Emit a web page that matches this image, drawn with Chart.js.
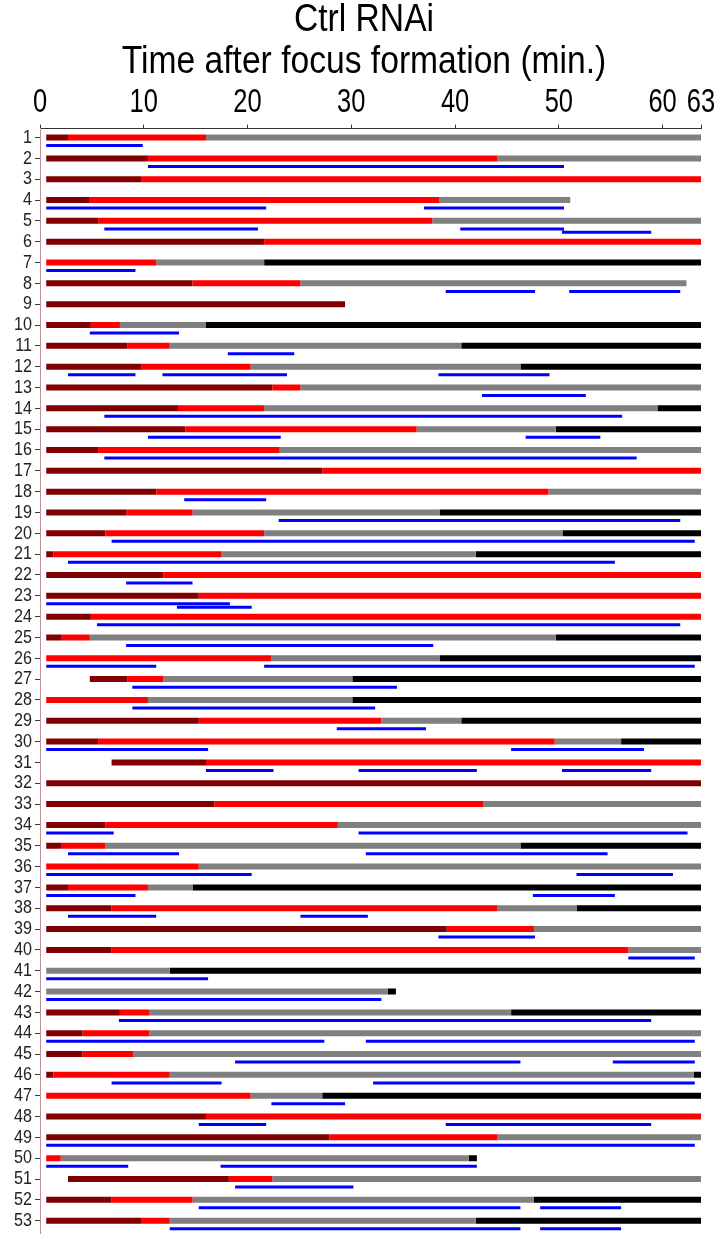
<!DOCTYPE html>
<html>
<head>
<meta charset="utf-8">
<script src="https://cdn.jsdelivr.net/npm/chart.js@4/dist/chart.umd.min.js"></script>
<style>
  html, body { margin: 0; padding: 0; background: #fff; }
  #wrap { width: 728px; height: 1234px; }
</style>
</head>
<body>
<div id="wrap"><canvas id="chart" width="728" height="1234"></canvas></div>
<script>
// one row per focus, numbered from the top
const rows = [1,2,3,4,5,6,7,8,9,10,11,12,13,14,15,16,17,18,19,20,21,22,23,24,25,26,27,
  28,29,30,31,32,33,34,35,36,37,38,39,40,41,42,43,44,45,46,47,48,49,50,51,52,53]

// phase onsets per row (min.), null when the phase is not seen
const barStart = [0.6,0.6,0.6,0.6,0.6,0.6,0.6,0.6,0.6,0.6,0.6,0.6,0.6,0.6,0.6,0.6,0.6,0.6,0.6,0.6,0.6,0.6,0.6,0.6,0.6,0.6,4.8,
  0.6,0.6,0.6,6.9,0.6,0.6,0.6,0.6,0.6,0.6,0.6,0.6,0.6,0.6,0.6,0.6,0.6,0.6,0.6,0.6,0.6,0.6,0.6,2.7,0.6,0.6]
const redOnset = [2.7,10.4,9.8,4.8,5.6,21.6,0.6,14.7,null,4.9,8.4,9.8,22.4,13.3,14.0,5.6,27.2,11.2,8.3,6.3,1.3,11.9,15.3,4.9,2.1,0.6,8.4,
  0.6,15.3,5.6,16.0,null,16.8,6.3,2.1,0.6,2.7,6.9,39.2,6.9,null,null,7.7,4.1,4.1,1.3,0.6,16.0,27.9,0.6,18.2,6.9,9.8]
const grayOnset = [16.0,44.1,null,38.5,37.8,null,11.2,25.1,null,7.7,12.5,20.3,25.1,21.6,36.3,23.1,null,49.0,14.7,21.6,17.5,null,null,null,4.8,22.3,11.9,
  10.4,32.9,49.6,null,null,42.7,28.7,6.3,15.3,10.4,44.1,47.6,56.7,0.6,0.6,10.5,10.5,9.0,12.5,20.3,null,44.1,2.0,22.4,14.7,12.5]
const blackOnset = [null,null,null,null,null,null,21.6,null,null,16.0,40.6,46.3,null,59.5,49.7,null,null,null,38.5,50.4,42.0,null,null,null,49.7,38.5,30.1,
  30.1,40.6,56.0,null,null,null,null,46.3,null,14.7,51.7,null,null,12.5,33.5,45.4,null,null,63.0,27.2,null,null,41.3,null,47.6,42.0]
const barEnd = [63.7,63.7,63.7,51.1,63.7,63.7,63.7,62.3,29.4,63.7,63.7,63.7,63.7,63.7,63.7,63.7,63.7,63.7,63.7,63.7,63.7,63.7,63.7,63.7,63.7,63.7,63.7,
  63.7,63.7,63.7,63.7,63.7,63.7,63.7,63.7,63.7,63.7,63.7,63.7,63.7,63.7,34.3,63.7,63.7,63.7,63.7,63.7,63.7,63.7,42.1,63.7,63.7,63.7]

// blue tracks under each row: [start, end] pairs
const tracks = [
  [[0.6,9.9]], [[10.4,50.5]], [], [[0.6,21.8],[37.0,50.5]], [[6.2,21.0],[40.5,50.5],[50.3,58.9]],
  [], [[0.6,9.2]], [[39.1,47.7],[51.0,61.7]], [], [[4.8,13.4]],
  [[18.1,24.5]], [[2.7,9.2],[11.8,23.8],[38.4,49.1]], [[42.6,52.6]], [[6.2,56.1]], [[10.4,23.2],[46.8,54.0]],
  [[6.2,57.5]], [], [[13.9,21.8]], [[23.0,61.7]], [[6.9,63.1]],
  [[2.7,55.4]], [[8.3,14.7]], [[0.6,18.3],[13.2,20.4]], [[5.5,61.7]], [[8.3,37.9]],
  [[0.6,11.2],[21.6,63.1]], [[8.9,34.4]], [[8.9,32.3]], [[28.6,37.2]], [[0.6,16.2],[45.4,58.2]],
  [[16.0,22.5],[30.7,42.1],[50.3,58.9]], [], [], [[0.6,7.1],[30.7,62.4]], [[2.7,13.4],[31.4,54.7]],
  [[0.6,20.4],[51.7,61.0]], [[0.6,9.2],[47.5,55.4]], [[2.7,11.2],[25.1,31.6]], [[38.4,47.7]], [[56.7,63.1]],
  [[0.6,16.2]], [[0.6,32.9]], [[7.6,58.9]], [[0.6,27.4],[31.4,63.1]], [[18.8,46.3],[55.2,63.1]],
  [[6.9,17.5],[32.1,63.1]], [[22.3,29.4]], [[15.3,21.8],[39.1,58.9]], [[0.6,63.1]], [[0.6,8.5],[17.4,42.1]],
  [[18.8,30.2]], [[15.3,46.3],[48.2,56.0]], [[12.5,46.3],[48.2,56.0]]
]

const tickValues = [0, 10, 20, 30, 40, 50, 60, 63.7]
const tickLabels = ['0', '10', '20', '30', '40', '50', '60', '63']

const FONT = "'Liberation Sans', Arial, sans-serif"

const phaseColors = ['#800000', '#ff0000', '#808080', '#000000']

// split each row into coloured pieces, gaps are null points
function phaseData(phase) {
  const pts = []
  rows.forEach((r, i) => {
    const marks = [barStart[i], redOnset[i], grayOnset[i], blackOnset[i]]
    let from = phase === 0 ? barStart[i] : marks[phase]
    if (from === null) return
    let to = barEnd[i]
    for (let k = phase + 1; k < 4; k++) {
      if (marks[k] !== null) { to = marks[k]; break }
    }
    if (to <= from) return
    pts.push({ x: from, y: r }, { x: to, y: r }, { x: to, y: null })
  })
  return pts
}

function trackData() {
  const pts = []
  rows.forEach((r, i) => {
    let prevEnd = -1
    tracks[i].forEach(([s, e]) => {
      const lane = s < prevEnd ? 1 : 0   // overlapping track drops a bit
      const y = r + 0.385 + lane * 0.16
      pts.push({ x: s, y: y }, { x: e, y: y }, { x: e, y: null })
      prevEnd = e
    })
  })
  return pts
}

const datasets = phaseColors.map((c, p) => ({
  data: phaseData(p),
  borderColor: c,
  borderWidth: 6,
  pointRadius: 0,
  spanGaps: false,
  tension: 0
}))
datasets.push({
  data: trackData(),
  borderColor: '#0000ff',
  borderWidth: 3,
  pointRadius: 0,
  spanGaps: false,
  tension: 0
})

// the original lettering is condensed; no narrow font here, so squeeze the text
const squeeze = { 38: 0.885, 34: 0.75, 19: 0.85 }
const narrowText = {
  id: 'narrowText',
  beforeDraw(chart) {
    const ctx = chart.ctx
    const fill = ctx.fillText
    ctx._origFill = fill
    ctx.fillText = function (text, x, y, maxW) {
      const m = /(\d+(?:\.\d+)?)px/.exec(this.font)
      const sx = m ? (squeeze[Math.round(+m[1])] || 1) : 1
      this.save()
      this.translate(x, y)
      this.scale(sx, 1)
      if (maxW === undefined) fill.call(this, text, 0, 0)
      else fill.call(this, text, 0, 0, maxW / sx)
      this.restore()
    }
  },
  afterDraw(chart) {
    const ctx = chart.ctx
    if (ctx._origFill) { ctx.fillText = ctx._origFill; delete ctx._origFill }
  }
}

new Chart(document.getElementById('chart'), {
  type: 'line',
  data: { datasets },
  plugins: [narrowText],
  options: {
    responsive: false,
    animation: false,
    events: [],
    layout: { padding: 0 },
    plugins: {
      legend: { display: false },
      tooltip: { enabled: false },
      title: {
        display: true,
        text: ['Ctrl RNAi', 'Time after focus formation (min.)'],
        color: '#000',
        font: { family: FONT, size: 38, weight: 'normal', lineHeight: 1.1 },
        padding: { top: 0, bottom: 0 }
      }
    },
    scales: {
      x: {
        type: 'linear',
        position: 'top',
        min: 0,
        max: 63.7,
        afterBuildTicks: (s) => { s.ticks = tickValues.map(v => ({ value: v })) },
        // right gap comes from the axis, so the title stays centred on the page
        afterFit: (s) => { s.height = 45; s.paddingLeft = 0; s.paddingRight = 27 },
        ticks: {
          autoSkip: false,
          maxRotation: 0,
          padding: 1.5,
          color: '#000',
          font: { family: FONT, size: 34 },
          callback: (v, i) => tickLabels[i]
        },
        grid: { drawOnChartArea: false, tickLength: 4, color: '#333' },
        border: { color: '#333', width: 1 }
      },
      y: {
        type: 'linear',
        reverse: true,
        min: 0.57,
        max: 53.64,
        afterBuildTicks: (s) => { s.ticks = rows.map(v => ({ value: v })) },
        afterFit: (s) => { s.width = 40; s.paddingTop = 0; s.paddingBottom = 0 },
        ticks: {
          autoSkip: false,
          padding: 3,
          color: '#222',
          font: { family: FONT, size: 19 },
          callback: (v) => String(v)
        },
        grid: { drawOnChartArea: false, tickLength: 5, color: '#444' },
        border: { color: '#c09098', width: 1, dash: [5, 4] }
      }
    }
  }
})
</script>
</body>
</html>
